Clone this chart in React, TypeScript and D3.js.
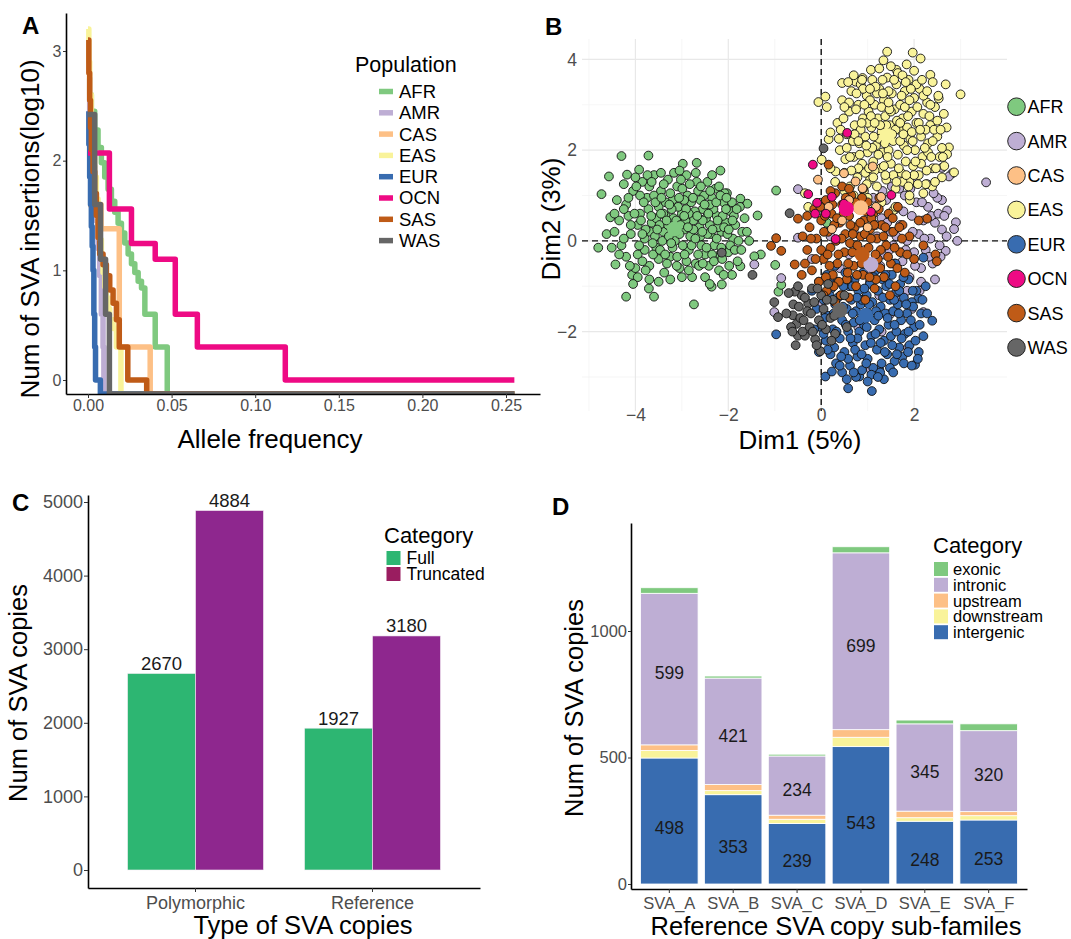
import React, { useEffect, useRef } from 'react';
import * as d3 from 'd3';

const FONT = '"Liberation Sans", Arial, Helvetica, sans-serif';
const TICK_COL = '#4d4d4d';

// ---------- shared population info ----------
const populations = ['AFR', 'AMR', 'CAS', 'EAS', 'EUR', 'OCN', 'SAS', 'WAS'];
const popColors = ['#7fc97f', '#beaed4', '#fdc086', '#f9f39a', '#386cb0', '#ee0a84', '#bf5b17', '#666666'];

// ---------- panel A : allele frequency spectrum (AF, log10 count) ----------
const NEG = -Infinity;
const afrSteps = [[0, 2.6], [0.002, 2.45], [0.004, 2.28], [0.006, 2.12], [0.008, 1.98], [0.01, 1.85], [0.012, 1.74], [0.014, 1.63], [0.016, 1.53], [0.018, 1.43], [0.02, 1.34], [0.022, 1.25], [0.024, 1.15], [0.026, 1.06], [0.028, 0.98], [0.03, 0.9], [0.032, 0.84], [0.034, 0.6], [0.0402, 0.3], [0.0474, NEG], [0.255, NEG]];
const amrSteps = [[0, 2.75], [0.001, 2.45], [0.002, 2.2], [0.003, 1.95], [0.004, 1.7], [0.005, 1.45], [0.006, 1.2], [0.007, 0.95], [0.008, 0.6], [0.009, 0.3], [0.0095, NEG], [0.255, NEG]];
const casSteps = [[0, 1.6], [0.0078, 1.38], [0.0187, 0.3], [0.0372, NEG], [0.255, NEG]];
const easSteps = [[0, 3.2], [0.0005, 2.9], [0.001, 2.6], [0.002, 2.3], [0.003, 2.05], [0.004, 1.85], [0.005, 1.65], [0.006, 1.45], [0.007, 1.28], [0.008, 1.12], [0.009, 0.98], [0.01, 0.85], [0.011, 0.75], [0.012, 0.65], [0.013, 0.55], [0.015, 0.47], [0.017, 0.3], [0.0197, NEG], [0.255, NEG]];
const eurSteps = [[0, 2.45], [0.0005, 2.15], [0.001, 1.85], [0.0015, 1.6], [0.002, 1.4], [0.0025, 1.22], [0.003, 1.0], [0.0035, 0.6], [0.004, 0.3], [0.0045, 0], [0.0074, NEG], [0.255, NEG]];
const ocnSteps = [[0, 2.07], [0.0128, 1.56], [0.026, 1.245], [0.0402, 1.1], [0.0522, 0.6], [0.0654, 0.3], [0.118, 0], [0.255, 0]];
const sasSteps = [[0, 3.1], [0.0005, 2.8], [0.001, 2.55], [0.0015, 2.3], [0.002, 2.1], [0.003, 1.9], [0.004, 1.7], [0.005, 1.5], [0.006, 1.3], [0.007, 1.15], [0.009, 1.05], [0.011, 0.95], [0.013, 0.82], [0.015, 0.7], [0.017, 0.55], [0.0187, 0.3], [0.0238, 0], [0.0351, NEG], [0.255, NEG]];
const wasSteps = [[0, 2.42], [0.004, 1.6], [0.0075, 1.1], [0.0105, 0.6], [0.0128, NEG], [0.255, NEG]];
const afSeries = [afrSteps, amrSteps, casSteps, easSteps, eurSteps, ocnSteps, sasSteps, wasSteps];
const afTicks = [0, 0.05, 0.1, 0.15, 0.2, 0.25];

// ---------- panel B : MDS points (Dim1, Dim2) ----------
const afrPts = [
  [-4.3, 1.87], [-3.72, 1.88], [-4.73, 1.03], [-4.8, -0.15], [-4.2, -1.23], [-3.6, -1.23], [-2.74, -1.4], [-2.17, 1.55], [-2.68, 1.72], [-1.37, 0.56], [-1.3, -0.3], [-1.59, 0.82], [-1.74, 0.93], [-2.14, -0.96], [-2.36, -1.01], [-3.71, -1.05], [-4.07, -0.75], [-4.43, -0.52], [-4.57, 1.42], [-1.92, -0.75], [-1.74, -0.56], [-1.44, -0.34], [-2.98, 1.7], [-3.92, 1.57], [-4.18, 1.46], [-2.03, 1.05], [-4.62, 0.15], [-4.54, 0.52], [-4.51, -0.15], [-2.03, -0.22], [-0.97, 1.11], [-0.92, -1.12], [-0.86, -0.97], [-0.02, 0.84], [0.12, 0.4], [-0.99, -0.53],
  [-4.35, 0.45], [-4.2, 0.8], [-4.1, 0.15], [-4.05, 1.1], [-3.95, -0.3], [-3.9, 0.6], [-3.85, 1.3], [-3.8, 0.05], [-3.75, 0.95], [-3.7, -0.55], [-3.65, 0.4], [-3.6, 1.45], [-3.55, -0.15], [-3.5, 0.75], [-3.45, 1.1], [-3.4, 0.2], [-3.38, -0.7], [-3.35, 0.55], [-3.3, 1.35], [-3.25, -0.35], [-3.2, 0.9], [-3.15, 0.0], [-3.1, 1.2], [-3.05, -0.6], [-3.0, 0.6], [-2.95, 0.25], [-2.9, 1.45], [-2.85, -0.2], [-2.8, 0.85], [-2.75, 0.45], [-2.7, -0.5], [-2.65, 1.1], [-2.6, 0.1], [-2.55, 0.7], [-2.5, -0.3], [-2.45, 1.3], [-2.4, 0.35], [-2.35, 0.95], [-2.3, -0.1], [-2.25, 0.55], [-2.2, -0.65], [-2.15, 0.2], [-2.1, 0.85], [-2.05, 0.4], [-2.0, -0.25], [-1.95, 0.65], [-1.9, 0.05], [-1.85, 0.35], [-1.8, -0.45], [-1.7, 0.2], [-1.65, 0.5],
  [-4.3, -0.1], [-4.25, 1.25], [-4.15, 0.55], [-4.0, -0.6], [-3.95, 0.35], [-3.9, 1.0], [-3.8, -0.2], [-3.72, 0.7], [-3.68, 0.2], [-3.6, 1.0], [-3.55, 0.5], [-3.5, -0.4], [-3.45, 1.5], [-3.42, 0.0], [-3.35, 0.85], [-3.3, 0.35], [-3.25, 1.05], [-3.2, -0.15], [-3.18, 0.5], [-3.1, -0.35], [-3.08, 0.75], [-3.02, 1.35], [-2.98, -0.1], [-2.92, 0.45], [-2.88, 1.0], [-2.82, 0.1], [-2.78, -0.8], [-2.72, 0.65], [-2.68, 1.3], [-2.62, 0.3], [-2.58, -0.1], [-2.52, 1.0], [-2.48, 0.5], [-2.42, -0.55], [-2.38, 0.15], [-2.32, 0.7], [-2.28, 1.15], [-2.22, 0.3], [-2.18, -0.3], [-2.12, 0.55], [-2.08, 1.05], [-2.02, 0.15], [-1.98, -0.55], [-1.92, 0.85], [-1.88, 0.55], [-1.78, 0.0], [-1.75, 0.75],
  [-4.4, 0.9], [-4.2, -0.35], [-4.1, 0.35], [-4.0, 1.4], [-3.85, -0.45], [-3.78, 0.25], [-3.7, 1.2], [-3.62, -0.3], [-3.58, 0.1], [-3.48, 0.35], [-3.4, 0.6], [-3.32, -0.5], [-3.28, 0.1], [-3.22, 0.7], [-3.12, 0.45], [-3.05, 0.15], [-2.95, 0.9], [-2.9, -0.45], [-2.85, 0.6], [-2.75, 0.25], [-2.65, -0.3], [-2.6, 0.9], [-2.55, 0.45], [-2.45, 0.15], [-2.4, 0.8], [-2.35, -0.3], [-2.25, 0.05], [-2.2, 1.2], [-2.15, -0.15], [-2.05, 0.7], [-3.0, -0.8], [-3.5, -0.9], [-2.5, -0.8], [-4.45, 0.2], [-3.95, -0.8],
  [-4.25, 0.05], [-4.15, 0.95], [-4.12, -0.55], [-4.02, 0.6], [-3.98, 1.2], [-3.92, -0.1], [-3.88, 0.45], [-3.82, 0.85], [-3.78, -0.65], [-3.74, 1.45], [-3.66, 0.55], [-3.63, -0.05], [-3.57, 0.85], [-3.53, 0.25], [-3.47, -0.2], [-3.44, 0.95], [-3.39, 1.25], [-3.36, -0.3], [-3.33, 0.45], [-3.27, 0.8], [-3.23, -0.05], [-3.17, 1.5], [-3.14, 0.2], [-3.11, -0.55], [-3.06, 0.95], [-3.03, 0.35], [-2.99, 1.15], [-2.94, -0.3], [-2.91, 0.7], [-2.87, 0.3], [-2.83, 1.25], [-2.79, -0.1], [-2.76, 0.95], [-2.71, 0.05], [-2.67, 0.55], [-2.63, -0.55], [-2.59, 1.2], [-2.56, 0.2], [-2.51, 0.8], [-2.47, -0.15], [-2.43, 0.6], [-2.39, 1.1], [-2.34, 0.25], [-2.31, -0.45], [-2.26, 0.85], [-2.23, 0.45], [-2.17, 1.0], [-2.13, -0.4], [-2.09, 0.3], [-2.04, 0.95], [-1.99, 0.25], [-1.96, -0.1], [-1.91, 0.45], [-1.86, -0.2], [-1.82, 0.7], [-1.72, -0.2], [-1.6, 0.2], [-1.55, 0.0], [-4.35, -0.3], [-4.45, 0.6], [-4.05, -0.95], [-3.25, -0.85], [-2.85, -0.65], [-2.4, -0.95], [-3.65, 1.3], [-3.05, 1.55], [-2.7, 1.5], [-2.35, 1.45], [-3.45, 0.6], [-2.95, 0.55], [-3.85, 0.15], [-2.55, -0.5], [-3.7, -0.85], [-4.25, 0.7], [-2.1, -0.75]
];
const amrPts = [
  [3.55, 1.29], [2.93, 0.0], [2.82, 1.49], [2.75, 1.42], [2.9, 0.41], [2.86, 0.26], [2.71, 0.67], [2.6, 0.9], [2.6, 1.61], [-0.5, 1.14], [-0.5, 0.07], [-0.86, -0.82], [-1.01, -1.57], [-1.44, -0.52], [2.2, -1.57], [2.68, -0.22], [1.87, -2.35], [1.07, -2.84],
  [0.95, -0.2], [1.0, 0.3], [1.05, -0.9], [1.1, 0.65], [1.15, -0.45], [1.2, 0.1], [1.25, -1.2], [1.3, 0.5], [1.35, -0.3], [1.4, 0.9], [1.45, -0.75], [1.5, 0.2], [1.55, -0.1], [1.6, 0.7], [1.65, -1.0], [1.7, 0.35], [1.75, -0.45], [1.8, 1.0], [1.85, 0.0], [1.9, -0.8], [1.95, 0.55], [2.0, -0.25], [2.05, 0.85], [2.1, 0.15], [2.15, -0.6], [2.2, 0.45], [2.25, -0.2], [2.3, 0.75], [2.35, 0.05], [2.4, -0.5], [2.45, 0.4], [2.5, 0.95], [2.55, -0.1], [2.6, 0.25], [1.12, 0.95], [1.32, 1.1], [1.52, 1.2], [1.72, -1.3], [1.92, 1.15], [2.12, -1.1], [0.6, -0.3], [0.7, 0.2], [0.4, -0.6], [0.2, 0.1], [0.0, -1.4], [-0.2, -0.4], [1.5, -1.6], [1.3, -2.0], [0.8, -1.9], [1.95, -1.5],
  [1.02, -0.65], [1.17, 0.35], [1.27, -0.55], [1.42, 0.4], [1.47, -0.2], [1.58, -0.5], [1.62, 0.1], [1.77, 0.65], [1.82, -0.2], [1.97, 0.2], [2.02, -0.55], [2.17, 0.85], [2.22, 0.05], [2.32, -0.35], [2.37, 0.55], [2.42, 1.05], [2.52, 0.6], [2.57, -0.35], [2.65, 0.55], [2.7, 0.1], [2.28, 1.25], [2.0, 1.3], [1.68, 1.15], [2.45, -0.85], [2.15, -0.9], [1.85, -1.1]
];
const casPts = [[-0.07, 1.35], [0.49, 1.49], [0.23, 0.26], [0.74, 1.31], [0.6, 0.9], [1.0, 0.3], [1.29, 0.97], [0.45, 0.45], [0.89, 1.16], [1.18, 0.75], [0.16, 0.75], [1.11, 1.64]];
const easPts = [
  [1.42, 4.17], [1.97, 4.15], [2.14, 4.02], [1.34, 3.98], [3.0, 3.23], [-0.06, 3.06], [0.12, 2.95], [0.09, 3.18], [0.45, 3.48], [2.68, 3.45], [2.75, 2.06], [2.86, 1.51], [2.71, 1.91], [0.31, 1.53], [0.01, 1.79], [0.16, 2.24], [2.2, 1.05], [2.39, 1.2], [1.91, 0.9], [1.55, 0.67], [-0.28, 0.75], [-0.35, 1.05], [0.2, 2.39], [2.35, 3.66], [1.62, 3.77], [0.89, 3.59], [1.07, 3.77], [2.53, 3.14], [2.64, 2.8], [1.84, 3.89], [0.74, 3.51],
  [0.35, 2.6], [0.4, 2.0], [0.45, 3.1], [0.5, 1.5], [0.55, 2.35], [0.6, 2.85], [0.62, 1.2], [0.65, 3.3], [0.7, 1.85], [0.72, 2.55], [0.78, 1.4], [0.8, 3.0], [0.82, 2.15], [0.85, 3.45], [0.88, 1.7], [0.9, 2.7], [0.92, 1.1], [0.95, 2.3], [0.98, 3.2], [1.0, 1.95], [1.02, 2.85], [1.05, 1.35], [1.08, 2.5], [1.1, 3.55], [1.12, 1.75], [1.15, 3.0], [1.18, 2.1], [1.2, 1.2], [1.22, 2.7], [1.25, 3.35], [1.28, 1.6], [1.3, 2.4], [1.32, 1.95], [1.35, 3.1], [1.38, 2.75], [1.4, 1.35], [1.42, 3.6], [1.45, 2.0], [1.48, 2.55], [1.5, 1.7], [1.52, 3.25], [1.55, 2.2], [1.58, 2.9], [1.6, 1.15], [1.62, 3.45], [1.65, 1.9], [1.68, 2.45], [1.7, 3.0], [1.72, 1.5], [1.75, 2.7], [1.78, 2.1], [1.8, 3.3], [1.82, 1.75], [1.85, 2.5], [1.88, 3.55], [1.9, 1.3], [1.92, 2.25], [1.95, 2.85], [1.98, 1.65], [2.0, 3.15], [2.02, 2.0], [2.05, 2.6], [2.1, 1.45], [2.12, 3.35], [2.15, 2.3], [2.18, 1.85], [2.2, 2.8], [2.25, 1.25], [2.28, 3.05], [2.3, 2.15], [2.35, 2.55], [2.4, 1.6], [2.45, 2.95], [2.5, 2.3], [2.55, 1.85],
  [0.38, 2.25], [0.48, 2.7], [0.52, 1.8], [0.58, 3.5], [0.68, 2.2], [0.75, 2.9], [0.8, 1.6], [0.85, 2.45], [0.9, 3.35], [0.95, 1.5], [1.0, 2.6], [1.05, 3.1], [1.1, 2.05], [1.15, 1.55], [1.2, 3.25], [1.25, 2.25], [1.3, 2.95], [1.35, 1.65], [1.4, 2.55], [1.45, 3.3], [1.5, 2.85], [1.55, 1.45], [1.6, 2.45], [1.65, 3.7], [1.7, 2.2], [1.75, 1.3], [1.8, 2.95], [1.85, 2.0], [1.9, 3.1], [1.95, 2.4], [2.0, 1.45], [2.05, 3.45], [2.1, 2.6], [2.15, 1.7], [2.2, 3.2], [2.25, 2.45], [2.3, 1.95], [2.35, 3.0], [2.4, 2.2], [2.5, 2.65], [2.6, 2.05], [2.6, 1.4], [0.5, 1.1], [0.3, 1.3], [0.2, 1.6], [1.0, 0.95], [1.3, 0.85], [1.6, 0.75], [1.9, 1.0], [0.7, 1.0], [2.45, 1.3], [2.7, 2.5], [2.65, 1.65], [1.25, 3.8], [1.5, 3.85], [1.75, 3.65], [2.0, 3.75], [0.7, 3.65], [2.4, 3.5],
  [0.42, 2.45], [0.55, 2.05], [0.6, 3.05], [0.65, 1.55], [0.72, 2.35], [0.76, 3.25], [0.83, 1.9], [0.87, 2.6], [0.93, 3.0], [0.97, 2.1], [1.03, 1.6], [1.07, 2.75], [1.13, 2.3], [1.17, 3.4], [1.23, 1.9], [1.27, 2.55], [1.33, 3.25], [1.37, 2.15], [1.43, 1.85], [1.47, 2.9], [1.53, 2.35], [1.57, 3.55], [1.63, 2.65], [1.67, 1.6], [1.73, 3.2], [1.77, 2.35], [1.83, 1.45], [1.87, 2.75], [1.93, 3.35], [1.97, 2.2], [2.03, 1.75], [2.07, 2.95], [2.13, 2.45], [2.17, 3.55], [2.23, 2.05], [2.27, 1.55], [2.33, 2.75], [2.37, 1.85], [2.43, 2.45], [2.47, 1.6], [2.52, 3.2], [2.57, 2.45], [2.62, 1.85], [0.5, 2.95], [0.88, 3.55], [1.12, 1.4], [1.38, 1.45], [1.62, 1.3], [1.88, 1.2], [2.08, 1.25], [0.62, 1.85], [0.98, 1.25], [1.32, 3.55], [1.82, 3.5], [2.28, 3.3], [1.05, 3.35], [1.45, 3.05], [1.7, 2.6], [1.15, 2.6], [0.8, 2.2]
];
const eurPts = [
  [-0.97, -2.06], [0.09, -2.99], [0.23, -2.88], [0.58, -3.25], [1.09, -3.31], [0.82, -2.99], [2.02, -2.73], [2.39, -1.76], [2.09, -1.27], [2.2, -0.37], [1.25, -2.84],
  [-0.2, -1.1], [-0.1, -1.5], [-0.05, -0.9], [0.0, -1.9], [0.05, -1.3], [0.1, -2.2], [0.12, -0.75], [0.15, -1.65], [0.2, -2.5], [0.22, -1.05], [0.25, -1.95], [0.3, -1.4], [0.32, -2.7], [0.35, -0.9], [0.4, -2.15], [0.42, -1.2], [0.45, -1.75], [0.5, -2.45], [0.52, -0.7], [0.55, -1.5], [0.58, -2.0], [0.6, -1.0], [0.62, -2.75], [0.65, -1.3], [0.68, -2.25], [0.7, -1.8], [0.72, -0.85], [0.75, -1.55], [0.78, -2.55], [0.8, -1.1], [0.82, -2.0], [0.85, -1.4], [0.88, -2.85], [0.9, -0.7], [0.92, -1.85], [0.95, -2.3], [0.98, -1.2], [1.0, -2.6], [1.02, -1.6], [1.05, -0.95], [1.08, -2.1], [1.1, -1.35], [1.12, -2.8], [1.15, -1.75], [1.18, -0.65], [1.2, -2.4], [1.22, -1.1], [1.25, -1.95], [1.28, -1.45], [1.3, -2.7], [1.32, -0.85], [1.35, -2.2], [1.38, -1.6], [1.4, -1.0], [1.42, -2.5], [1.45, -1.85], [1.48, -1.3], [1.5, -2.1], [1.52, -0.75], [1.55, -1.55], [1.58, -2.65], [1.6, -1.15], [1.62, -2.0], [1.65, -1.4], [1.68, -2.35], [1.7, -0.95], [1.72, -1.75], [1.75, -2.55], [1.78, -1.25], [1.8, -2.05], [1.85, -1.6], [1.88, -0.85], [1.9, -2.3], [1.95, -1.35], [2.0, -1.9], [2.05, -1.1], [2.1, -2.45], [2.15, -1.6], [2.2, -2.1], [2.25, -1.0],
  [0.05, -2.05], [0.18, -1.2], [0.28, -2.35], [0.38, -1.55], [0.48, -1.0], [0.58, -2.6], [0.68, -1.6], [0.78, -2.15], [0.88, -1.3], [0.98, -1.9], [1.08, -2.95], [1.18, -1.55], [1.28, -2.25], [1.38, -0.75], [1.48, -2.8], [1.58, -1.85], [1.68, -1.1], [1.78, -2.7], [1.88, -2.0], [1.98, -1.45], [2.08, -2.6], [0.45, -2.9], [0.75, -3.0], [1.35, -3.05], [1.6, -0.5], [0.3, -0.55], [1.95, -2.75],
  [0.08, -1.7], [0.14, -2.4], [0.2, -0.95], [0.27, -1.6], [0.33, -2.0], [0.36, -1.25], [0.43, -2.55], [0.47, -1.45], [0.53, -1.85], [0.57, -0.85], [0.63, -2.15], [0.67, -1.0], [0.73, -2.4], [0.77, -1.25], [0.83, -1.75], [0.87, -2.5], [0.93, -1.05], [0.97, -2.7], [1.03, -1.4], [1.07, -2.25], [1.13, -0.8], [1.17, -2.05], [1.23, -1.65], [1.27, -2.9], [1.33, -1.25], [1.37, -2.45], [1.43, -1.7], [1.47, -0.95], [1.53, -2.3], [1.57, -1.3], [1.63, -2.5], [1.67, -1.6], [1.73, -2.15], [1.77, -0.8], [1.83, -1.4], [1.87, -2.45], [1.93, -1.75], [1.97, -1.1], [2.03, -2.2], [2.12, -1.85], [2.18, -1.3], [2.28, -1.6], [0.4, -2.75], [0.7, -2.9], [1.0, -3.1], [1.22, -3.0], [1.55, -2.9], [-0.15, -1.95], [-0.05, -2.45], [0.55, -3.05]
];
const sasPts = [
  [-1.08, -0.11], [-0.97, 0.06], [-0.86, -0.22], [-0.5, 0.49], [0.16, 1.68], [2.46, -0.3], [2.49, -0.45], [2.28, 0.49], [-0.57, -0.52], [-0.42, -0.75],
  [-0.3, -0.2], [-0.25, 0.3], [-0.2, -0.65], [-0.15, 0.7], [-0.1, 0.05], [-0.05, -0.9], [0.0, 0.45], [0.05, -0.4], [0.1, 0.9], [0.12, -1.1], [0.15, 0.2], [0.2, -0.15], [0.22, 0.6], [0.25, -0.75], [0.3, 1.05], [0.32, 0.0], [0.35, -0.5], [0.4, 0.4], [0.42, -1.2], [0.45, 0.8], [0.5, -0.25], [0.52, 0.15], [0.55, -0.85], [0.6, 0.55], [0.62, -0.05], [0.65, 1.0], [0.7, -0.55], [0.72, 0.3], [0.75, -1.0], [0.8, 0.7], [0.82, -0.3], [0.85, 0.1], [0.9, -0.75], [0.92, 0.45], [0.95, -1.3], [1.0, 0.85], [1.02, -0.15], [1.05, 0.25], [1.1, -0.6], [1.12, 0.6], [1.15, -1.05], [1.2, 0.05], [1.22, -0.4], [1.25, 0.95], [1.3, 0.35], [1.35, -0.8], [1.4, -0.1], [1.45, 0.6], [1.5, -0.5], [1.55, 0.2], [1.6, -1.0], [1.65, 0.75], [1.7, -0.25], [1.75, 0.35], [1.8, -0.7], [1.9, 0.1], [2.0, -0.4], [2.1, 0.45], [2.2, -0.1],
  [-0.4, 0.1], [-0.35, -0.5], [0.0, -0.2], [0.08, 0.55], [0.18, -0.55], [0.28, 0.35], [0.38, -0.9], [0.48, 0.6], [0.58, -0.5], [0.68, 0.15], [0.78, -0.1], [0.88, 0.95], [0.98, -0.45], [1.08, 0.5], [1.18, -0.85], [1.28, -0.2], [1.38, 0.3], [1.48, -1.2], [1.58, -0.15], [1.68, 0.3], [0.1, -0.8], [0.6, -1.25], [0.3, -1.35], [0.9, 1.15], [0.45, 1.2],
  [-0.22, 0.05], [-0.12, -0.4], [-0.02, 0.75], [0.06, 0.2], [0.14, -0.3], [0.24, 0.8], [0.27, -1.0], [0.34, 0.5], [0.37, -0.3], [0.44, 0.05], [0.53, 0.95], [0.57, -0.7], [0.63, 0.35], [0.67, -0.25], [0.74, 0.85], [0.77, -0.75], [0.84, 0.4], [0.87, -0.5], [0.94, 0.15], [0.97, 0.65], [1.04, -0.8], [1.07, 0.05], [1.14, 0.35], [1.17, -0.3], [1.24, 0.7], [1.27, -0.6], [1.34, 0.1], [1.44, -0.35], [1.54, 0.5], [1.64, -0.6], [1.74, 0.05], [1.85, -0.3], [0.2, 1.1], [0.6, 1.15], [-0.3, 0.55], [0.05, -1.2]
];
const wasPts = [
  [-0.68, 0.61], [-1.48, -0.75], [0.05, 2.04], [-1.01, -1.35], [-0.93, -1.68], [-0.61, -1.64], [-0.53, -1.83], [-0.5, -2.09], [-0.35, -2.09], [-0.13, -2.17], [-0.02, -2.43], [-0.42, -1.2], [-0.28, -1.38], [-0.57, -1.12], [-2.14, -0.26],
  [-0.6, -1.4], [-0.5, -1.0], [-0.45, -1.7], [-0.4, -2.0], [-0.35, -1.25], [-0.3, -1.55], [-0.25, -1.9], [-0.2, -1.05], [-0.15, -1.35], [-0.1, -2.3], [-0.05, -1.75], [0.0, -1.2], [0.05, -1.5], [0.1, -1.95], [0.15, -0.95], [0.2, -1.7], [0.25, -1.3], [0.3, -2.05], [0.35, -1.55], [0.5, -1.2], [0.55, -1.9], [-0.7, -1.15], [-0.65, -1.9], [-0.55, -2.3], [-0.75, -1.6],
  [-0.48, -1.45], [-0.38, -1.75], [-0.22, -1.6], [-0.08, -1.05], [0.02, -1.85], [0.12, -1.3], [0.22, -2.2], [0.28, -1.65], [-0.62, -2.0], [-0.18, -2.0]
];
const ocnPts = [[-0.18, 1.68], [0.56, 2.38], [-0.28, 1.03], [-0.09, 0.84], [0.1, 0.6], [0.23, 0.97], [1.07, 0.64], [1.51, 1.01], [0.31, 0.04], [0.49, 0.82], [-0.13, 0.6]];
const mdsPoints = [afrPts, amrPts, casPts, easPts, eurPts, ocnPts, sasPts, wasPts];
const drawOrder = [0, 1, 3, 4, 6, 7, 2, 5];
const popCentroids = [[-3.16, 0.26], [1.07, -0.52], [0.85, 0.73], [1.42, 2.32], [0.96, -1.64], [0.54, 0.71], [0.88, -0.3], [0.4, -1.53]];
const dimTicksX = [-4, -2, 0, 2];
const dimTicksY = [-2, 0, 2, 4];
const dimMinorX = [-5, -3, -1, 1, 3];
const dimMinorY = [-3, -1, 1, 3];

// ---------- panel C : full vs truncated ----------
const copyTypes = ['Polymorphic', 'Reference'];
const lengthCats = ['Full', 'Truncated'];
const fullCounts = [2670, 1927];
const truncCounts = [4884, 3180];
const lengthColors = ['#2db672', '#8e278e'];
const lengthKeyColors = ['#2db672', '#9a1d60'];
const countTicks = [0, 1000, 2000, 3000, 4000, 5000];

// ---------- panel D : reference SVA sub-families ----------
const subFamilies = ['SVA_A', 'SVA_B', 'SVA_C', 'SVA_D', 'SVA_E', 'SVA_F'];
const regionKeys = ['intergenic', 'downstream', 'upstream', 'intronic', 'exonic'];
const intergenic = [498, 353, 239, 543, 248, 253];
const downstream = [30, 16, 17, 37, 14, 17];
const upstream = [22, 24, 16, 30, 26, 16];
const intronic = [599, 421, 234, 699, 345, 320];
const exonic = [22, 8, 7, 24, 15, 27];
const regionColors = { exonic: '#7fc97f', intronic: '#beaed4', upstream: '#fdc086', downstream: '#f9f39a', intergenic: '#386cb0' };
const regionLegend = ['exonic', 'intronic', 'upstream', 'downstream', 'intergenic'];
const subTicks = [0, 500, 1000];

function styleAxis(g, size, line = true) {
  g.attr('font-family', FONT);
  g.select('.domain').attr('stroke', line ? '#000' : 'none').attr('stroke-width', 1.6);
  g.selectAll('.tick line').attr('stroke', '#333').attr('stroke-width', 1);
  g.selectAll('.tick text').attr('fill', TICK_COL).attr('font-size', size).attr('font-family', FONT);
}

function title(svg, text, x, y, size, rotate = false) {
  svg.append('text')
    .attr('transform', rotate ? `translate(${x},${y}) rotate(-90)` : `translate(${x},${y})`)
    .attr('text-anchor', 'middle')
    .attr('font-family', FONT)
    .attr('font-size', size)
    .attr('fill', '#000')
    .text(text);
}

function panelLetter(svg, text, x, y) {
  svg.append('text').attr('x', x).attr('y', y).attr('font-family', FONT)
    .attr('font-weight', 'bold').attr('font-size', 24).text(text);
}

function drawA(svg) {
  const left = 66, right = 540, top = 13, bottom = 394;
  const x = d3.scaleLinear().domain([0, 0.25]).range([88, 506]);
  x.domain([x.invert(left), x.invert(right)]).range([left, right]);
  const y = d3.scaleLinear().domain([0, 3]).range([380, 51]);
  y.domain([y.invert(bottom), y.invert(top)]).range([bottom, top]);

  svg.append('clipPath').attr('id', 'clipA')
    .append('rect').attr('x', left).attr('y', top).attr('width', right - left).attr('height', bottom - top);

  const line = d3.line()
    .x((d) => x(d[0]))
    .y((d) => (isFinite(d[1]) ? y(d[1]) : bottom))
    .curve(d3.curveStepAfter);

  svg.append('g').attr('clip-path', 'url(#clipA)')
    .selectAll('path').data(afSeries).enter().append('path')
    .attr('d', (d) => line(d))
    .attr('fill', 'none')
    .attr('stroke', (d, i) => popColors[i])
    .attr('stroke-width', 5.5)
    .attr('stroke-linejoin', 'round');

  const gx = svg.append('g').attr('transform', `translate(0,${bottom})`)
    .call(d3.axisBottom(x).tickValues(afTicks).tickFormat(d3.format('.2f')).tickSizeInner(4).tickSizeOuter(0).tickPadding(2));
  styleAxis(gx, 16);
  const gy = svg.append('g').attr('transform', `translate(${left},0)`)
    .call(d3.axisLeft(y).tickValues([0, 1, 2, 3]).tickFormat(d3.format('d')).tickSizeInner(3).tickSizeOuter(0).tickPadding(1.5));
  styleAxis(gy, 16);

  title(svg, 'Num of SVA insertions(log10)', 39, 229, 26, true);
  title(svg, 'Allele frequency', 270, 448, 26);

  // legend
  svg.append('text').attr('x', 355).attr('y', 64).attr('dy', '0.35em')
    .attr('font-family', FONT).attr('font-size', 21.5).text('Population');
  const lg = svg.append('g').selectAll('g').data(populations).enter().append('g')
    .attr('transform', (d, i) => `translate(0,${91.5 + i * 21.3})`);
  lg.append('line').attr('x1', 379).attr('x2', 393).attr('y1', 0).attr('y2', 0)
    .attr('stroke', (d, i) => popColors[i]).attr('stroke-width', 5.5);
  lg.append('text').attr('x', 399).attr('dy', '0.35em').attr('font-family', FONT)
    .attr('font-size', 18.5).attr('fill', '#000').text((d) => d);

  panelLetter(svg, 'A', 22, 34);
}

function drawB(svg) {
  const left = 582, right = 1007, top = 39, bottom = 411;
  const x = d3.scaleLinear().domain([-5.15, 4.0]).range([left, right]);
  const y = d3.scaleLinear().domain([-3.75, 4.45]).range([bottom, top]);

  const grid = svg.append('g');
  grid.selectAll('.mx').data(dimMinorX).enter().append('line')
    .attr('x1', (d) => x(d)).attr('x2', (d) => x(d)).attr('y1', top).attr('y2', bottom)
    .attr('stroke', '#f2f2f2').attr('stroke-width', 0.7);
  grid.selectAll('.my').data(dimMinorY).enter().append('line')
    .attr('y1', (d) => y(d)).attr('y2', (d) => y(d)).attr('x1', left).attr('x2', right)
    .attr('stroke', '#f2f2f2').attr('stroke-width', 0.7);
  grid.selectAll('.gx').data(dimTicksX).enter().append('line')
    .attr('x1', (d) => x(d)).attr('x2', (d) => x(d)).attr('y1', top).attr('y2', bottom)
    .attr('stroke', '#e8e8e8').attr('stroke-width', 1.2);
  grid.selectAll('.gy').data(dimTicksY).enter().append('line')
    .attr('y1', (d) => y(d)).attr('y2', (d) => y(d)).attr('x1', left).attr('x2', right)
    .attr('stroke', '#e8e8e8').attr('stroke-width', 1.2);

  // dashed zero lines
  svg.append('line').attr('x1', left).attr('x2', right).attr('y1', y(0)).attr('y2', y(0))
    .attr('stroke', '#111').attr('stroke-width', 1.4).attr('stroke-dasharray', '6,4');
  svg.append('line').attr('x1', x(0)).attr('x2', x(0)).attr('y1', top).attr('y2', bottom)
    .attr('stroke', '#111').attr('stroke-width', 1.4).attr('stroke-dasharray', '6,4');

  const pts = svg.append('g');
  drawOrder.forEach((pi) => {
    pts.append('g').selectAll('circle').data(mdsPoints[pi]).enter().append('circle')
      .attr('cx', (d) => x(d[0])).attr('cy', (d) => y(d[1])).attr('r', 4.4)
      .attr('fill', popColors[pi]).attr('stroke', '#111').attr('stroke-width', 0.9);
  });
  pts.append('g').selectAll('circle').data(popCentroids).enter().append('circle')
    .attr('cx', (d) => x(d[0])).attr('cy', (d) => y(d[1])).attr('r', 7.5)
    .attr('fill', (d, i) => popColors[i]);

  const gx = svg.append('g').attr('transform', `translate(0,${bottom})`)
    .call(d3.axisBottom(x).tickValues(dimTicksX).tickSize(0).tickPadding(-2));
  styleAxis(gx, 17.5, false);
  const gy = svg.append('g').attr('transform', `translate(${left},0)`)
    .call(d3.axisLeft(y).tickValues(dimTicksY).tickSize(0).tickPadding(5));
  styleAxis(gy, 17.5, false);

  title(svg, 'Dim1 (5%)', 800, 449, 26);
  title(svg, 'Dim2 (3%)', 560, 219, 26, true);

  const lg = svg.append('g').selectAll('g').data(populations).enter().append('g')
    .attr('transform', (d, i) => `translate(1016.5,${106.7 + i * 34.4})`);
  lg.append('circle').attr('r', 8.8).attr('fill', (d, i) => popColors[i])
    .attr('stroke', '#222').attr('stroke-width', 1);
  lg.append('text').attr('x', 11).attr('dy', '0.36em').attr('font-family', FONT)
    .attr('font-size', 18).attr('fill', '#000').text((d) => d);

  panelLetter(svg, 'B', 545, 35);
}

function drawC(svg) {
  const left = 88, right = 480, top = 495, bottom = 888;
  const x0 = d3.scaleBand().domain(copyTypes).range([left, right]).paddingInner(0.232).paddingOuter(0.2235);
  const x1 = d3.scaleBand().domain(lengthCats).range([0, x0.bandwidth()]);
  const y = d3.scaleLinear().domain([0, 5000]).range([870, 502]);
  y.domain([y.invert(bottom), y.invert(top)]).range([bottom, top]);

  const rows = copyTypes.map((t, i) => ({ type: t, values: [fullCounts[i], truncCounts[i]] }));
  const grp = svg.append('g').selectAll('g').data(rows).enter().append('g')
    .attr('transform', (d) => `translate(${x0(d.type)},0)`);
  grp.selectAll('rect').data((d) => d.values.map((v, j) => ({ cat: lengthCats[j], v, j }))).enter().append('rect')
    .attr('x', (d) => x1(d.cat)).attr('width', x1.bandwidth())
    .attr('y', (d) => y(d.v)).attr('height', (d) => y(0) - y(d.v))
    .attr('fill', (d) => lengthColors[d.j]).attr('stroke', '#f4eef4').attr('stroke-width', 0.6);
  grp.selectAll('text').data((d) => d.values.map((v, j) => ({ cat: lengthCats[j], v }))).enter().append('text')
    .attr('x', (d) => x1(d.cat) + x1.bandwidth() / 2).attr('y', (d) => y(d.v) - 3.5)
    .attr('text-anchor', 'middle').attr('font-family', FONT).attr('font-size', 18.5).attr('fill', '#1a1a1a')
    .text((d) => d.v);

  const gx = svg.append('g').attr('transform', `translate(0,${bottom})`)
    .call(d3.axisBottom(x0).tickSizeInner(4).tickSizeOuter(0).tickPadding(4.5));
  styleAxis(gx, 18);
  const gy = svg.append('g').attr('transform', `translate(${left},0)`)
    .call(d3.axisLeft(y).tickValues(countTicks).tickFormat(d3.format('d')).tickSizeInner(4).tickSizeOuter(0).tickPadding(1));
  styleAxis(gy, 18);

  title(svg, 'Num of SVA copies', 27, 693, 25.5, true);
  title(svg, 'Type of SVA copies', 303, 934, 25.5);

  svg.append('text').attr('x', 384).attr('y', 535).attr('dy', '0.35em')
    .attr('font-family', FONT).attr('font-size', 22).text('Category');
  const lg = svg.append('g').selectAll('g').data(lengthCats).enter().append('g')
    .attr('transform', (d, i) => `translate(0,${558 + i * 16})`);
  lg.append('rect').attr('x', 386.5).attr('y', -7).attr('width', 14).attr('height', 14)
    .attr('fill', (d, i) => lengthKeyColors[i]);
  lg.append('text').attr('x', 406.5).attr('dy', '0.36em').attr('font-family', FONT)
    .attr('font-size', 17.5).attr('fill', '#000').text((d) => d);

  panelLetter(svg, 'C', 12, 511);
}

function drawD(svg) {
  const left = 631, right = 1027, top = 523, bottom = 889;
  const x = d3.scaleBand().domain(subFamilies).range([left, right]).paddingInner(0.1).paddingOuter(0.15);
  const y = d3.scaleLinear().domain([0, 1000]).range([884, 631]);
  y.domain([y.invert(bottom), y.invert(top)]).range([bottom, top]);

  const table = subFamilies.map((s, i) => ({
    name: s, intergenic: intergenic[i], downstream: downstream[i], upstream: upstream[i], intronic: intronic[i], exonic: exonic[i]
  }));
  const stacked = d3.stack().keys(regionKeys)(table);

  const layers = svg.append('g').selectAll('g').data(stacked).enter().append('g')
    .attr('fill', (d) => regionColors[d.key]);
  layers.selectAll('rect').data((d) => d).enter().append('rect')
    .attr('x', (d) => x(d.data.name)).attr('width', x.bandwidth())
    .attr('y', (d) => y(d[1])).attr('height', (d) => y(d[0]) - y(d[1]))
    .attr('stroke', '#fff').attr('stroke-width', 0.8);

  const labelled = stacked.filter((s) => s.key === 'intergenic' || s.key === 'intronic');
  svg.append('g').selectAll('g').data(labelled).enter().append('g')
    .selectAll('text').data((d) => d.map((p) => ({ p, key: d.key }))).enter().append('text')
    .attr('x', (d) => x(d.p.data.name) + x.bandwidth() / 2)
    .attr('y', (d) => y((d.p[0] + d.p[1]) / 2) + (d.key === 'intergenic' ? 7 : 4))
    .attr('dy', '0.36em').attr('text-anchor', 'middle')
    .attr('font-family', FONT).attr('font-size', 17.5).attr('fill', '#1a1a1a')
    .text((d) => d.p[1] - d.p[0]);

  const gx = svg.append('g').attr('transform', `translate(0,${bottom})`)
    .call(d3.axisBottom(x).tickSizeInner(4).tickSizeOuter(0).tickPadding(4));
  styleAxis(gx, 16.5);
  const gy = svg.append('g').attr('transform', `translate(${left},0)`)
    .call(d3.axisLeft(y).tickValues(subTicks).tickFormat(d3.format('d')).tickSizeInner(3).tickSizeOuter(0).tickPadding(1));
  styleAxis(gy, 16.5);

  title(svg, 'Num of SVA copies', 583, 708, 25.5, true);
  title(svg, 'Reference SVA copy sub-familes', 836, 935, 25.5);

  svg.append('text').attr('x', 933).attr('y', 545).attr('dy', '0.35em')
    .attr('font-family', FONT).attr('font-size', 22).text('Category');
  const lg = svg.append('g').selectAll('g').data(regionLegend).enter().append('g')
    .attr('transform', (d, i) => `translate(0,${569 + i * 15.8})`);
  lg.append('rect').attr('x', 934).attr('y', -7).attr('width', 14).attr('height', 14)
    .attr('fill', (d) => regionColors[d]);
  lg.append('text').attr('x', 953).attr('dy', '0.36em').attr('font-family', FONT)
    .attr('font-size', 16.5).attr('fill', '#000').text((d) => d);

  panelLetter(svg, 'D', 552, 515);
}

export default function App() {
  const ref = useRef(null);

  useEffect(() => {
    const svg = d3.select(ref.current);
    svg.selectAll('*').remove();
    drawA(svg);
    drawB(svg);
    drawC(svg);
    drawD(svg);
  }, []);

  return (
    <svg
      ref={ref}
      width={1071}
      height={939}
      style={{ position: 'absolute', left: 0, top: 0, background: '#fff' }}
    />
  );
}
